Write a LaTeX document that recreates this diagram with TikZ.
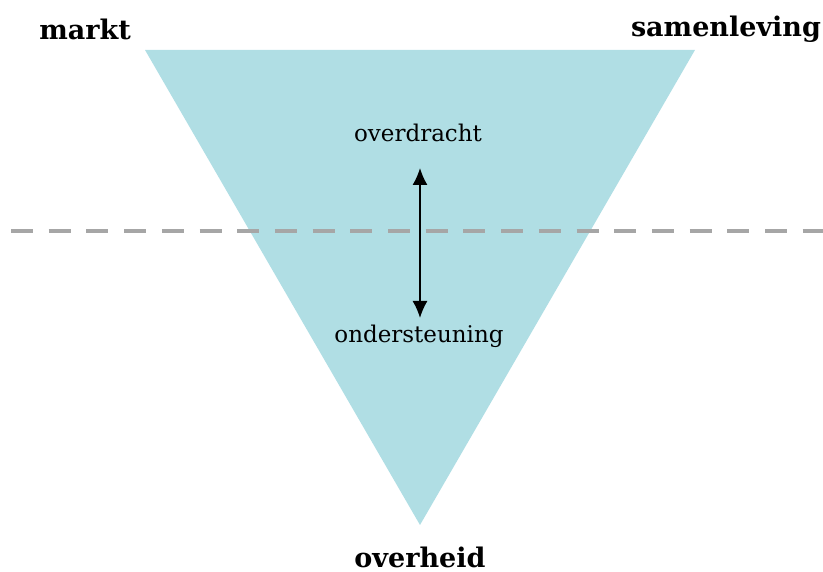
\documentclass[tikz,border=0pt]{standalone}
\usepackage{fontspec}
\setmainfont{DejaVu Serif}
\usetikzlibrary{arrows.meta}
\definecolor{trifill}{RGB}{176,222,228}
\definecolor{linegray}{RGB}{166,166,166}

\begin{document}
\begin{tikzpicture}[x=1pt,y=1pt]
\useasboundingbox (0,0) rectangle (823,572);
\fill[trifill] (145,522) -- (695,522) -- (420,47) -- cycle;
\draw[linegray,line width=4.5pt,dash pattern=on 22pt off 15.7pt] (11,341) -- (823,341);

\node[font=\fontsize{23}{27}\selectfont] (over) at (418,439) {overdracht};
\node[font=\fontsize{23}{27}\selectfont] (onder) at (419,236) {ondersteuning};
\node[font=\fontsize{27}{32}\bfseries] (markt) at (85,543) {markt};
\node[font=\fontsize{27}{32}\bfseries] (samen) at (726,543) {samenleving};
\node[font=\fontsize{27}{32}\bfseries] (overheid) at (420,15) {overheid};

\coordinate (top) at (420,404);
\coordinate (bot) at (420,254);
\draw[{Latex[length=17pt,width=15pt]}-{Latex[length=17pt,width=15pt]},line width=1.5pt] (top) -- (bot);

\end{tikzpicture}
\end{document}
